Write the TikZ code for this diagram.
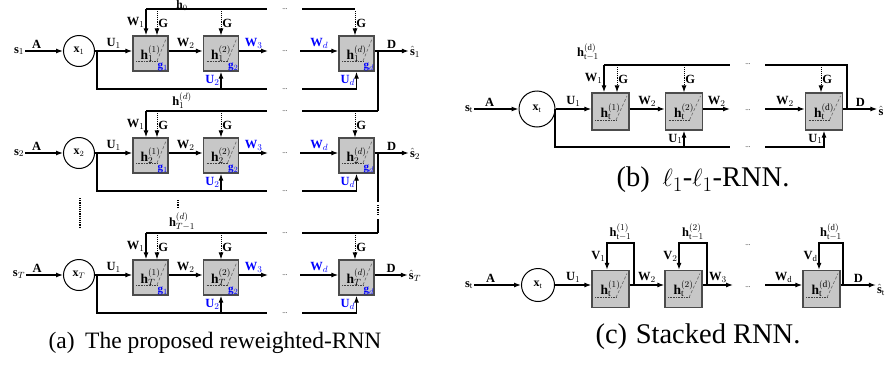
\documentclass[tikz,border=0pt]{standalone}
\usepackage{fontspec}
\setmainfont{Liberation Serif}
\usetikzlibrary{arrows.meta}
\tikzset{
  lbl/.style={font=\fontsize{12.5}{13}\selectfont\bfseries, inner sep=1pt},
  blbl/.style={lbl, text=blue},
  glbl/.style={font=\fontsize{11}{11}\selectfont\bfseries, text=blue, inner sep=0.5pt},
  link/.style={line width=1.2pt},
  wire/.style={link, -{Latex[length=7pt,width=5pt]}},
  gwire/.style={line width=0.9pt, densely dotted, -{Latex[length=7pt,width=5pt]}},
  unit/.style={circle, draw, line width=1pt, minimum size=31pt, inner sep=0pt, font=\fontsize{12}{12}\selectfont\bfseries},
  cell/.style={draw=black!70, fill=black!22, line width=1.3pt, minimum size=35pt, inner sep=0pt,
    font=\fontsize{13.5}{14}\selectfont,
    path picture={
      \draw[black!75, line width=0.6pt, densely dotted]
        ([shift={(3pt,10pt)}]path picture bounding box.south west) -- ([shift={(24pt,10pt)}]path picture bounding box.south west);
      \draw[black!60, line width=0.6pt, densely dashed]
        ([shift={(24pt,10pt)}]path picture bounding box.south west) -- ([shift={(-2pt,-3pt)}]path picture bounding box.north east);
    }},
  etc/.style={font=\fontsize{7}{7}\selectfont, inner sep=0pt},
  subcap/.style={font=\fontsize{23.5}{26}\selectfont, inner sep=0pt}
}
\begin{document}
\begin{tikzpicture}[x=1pt, y=-1pt]
\useasboundingbox (0,0) rectangle (886,367);

% (a) one row per time step
\foreach \r/\Y/\s/\e in {1/51/1/355, 2/153/2/378, 3/275/T/378} {
  \node[lbl] (s\r) at (19,\Y) {$\mathbf{s}_{\s}$};
  \node[unit] (x\r) at (79,\Y) {$\mathbf{x}_{\s}$};
  \node[cell] (c\r1) at (150.5,\Y+2.5) {$\mathbf{h}_{\s}^{(1)}$\hspace{7pt}};
  \node[cell] (c\r2) at (221,\Y+2.5) {$\mathbf{h}_{\s}^{(2)}$\hspace{7pt}};
  \node[cell] (c\r3) at (356.5,\Y+2.5) {$\mathbf{h}_{\s}^{(d)}$\hspace{7pt}};
  \node[glbl, anchor=south east] (g\r1) at (c\r1.south east) {$\mathbf{g}_1$};
  \node[glbl, anchor=south east] (g\r2) at (c\r2.south east) {$\mathbf{g}_2$};
  \node[glbl, anchor=south east] (g\r3) at (c\r3.south east) {$\mathbf{g}_d$};
  \node[lbl] (y\r) at (415,\Y+1) {$\hat{\mathbf{s}}_{\s}$};
  \node[etc] (m\r) at (285,\Y) {...};
  \node[etc] (mb\r) at (285,\Y+38) {...};
  \node[etc] (mt\r) at (285,\Y-42) {...};
  % free ends
  \coordinate (w\r) at (268,\Y);
  \coordinate (v\r) at (300,\Y);
  \coordinate (o\r) at (97,\Y);
  \coordinate (p\r) at (267,\Y+38);
  \coordinate (q\r) at (302,\Y+38);
  \coordinate (t\r) at (146,\Y-42);
  \coordinate (tm\r) at (267,\Y-42);
  \coordinate (tn\r) at (302,\Y-42);
  \coordinate (te\r) at (\e,\Y-42);
  \coordinate (k\r1) at (157,\Y-40);
  \coordinate (k\r2) at (221,\Y-40);
  \coordinate (k\r3) at (355,\Y-40);
  \coordinate (r\r) at (378,\Y);
  % forward path
  \draw[wire] (s\r) -- (x\r) node[lbl, above=1pt, pos=0.3] {A};
  \draw[wire] (x\r) -- (x\r -| c\r1.west) node[lbl, above=1pt, midway] {$\mathbf{U}_1$};
  \draw[wire] (c\r1.east |- x\r) -- (c\r2.west |- x\r) node[lbl, above=1pt, midway] {$\mathbf{W}_2$};
  \draw[wire] (c\r2.east |- x\r) -- (w\r) node[blbl, above=1pt, midway] {$\mathbf{W}_3$};
  \draw[wire] (v\r) -- (v\r -| c\r3.west) node[blbl, above=1pt, midway] {$\mathbf{W}_d$};
  \draw[wire] (c\r3.east |- x\r) -- (y\r.west |- x\r) node[lbl, above=1pt, midway] {D};
  % input skip below
  \draw[link] (o\r) |- (p\r);
  \draw[wire] (q\r) -| (c\r3.south) node[blbl, left, pos=0.75] {$\mathbf{U}_d$};
  \draw[wire] (c\r2.south |- p\r) -- (c\r2.south) node[blbl, left, midway] {$\mathbf{U}_2$};
  % previous state above
  \draw[link] (t\r) -- (tm\r);
  \draw[link] (tn\r) -- (te\r);
  \draw[wire] (t\r) -- (t\r |- c\r1.north) node[lbl, left, midway] {$\mathbf{W}_1$};
  \draw[gwire] (k\r1) -- (k\r1 |- c\r1.north) node[lbl, right, midway] {G};
  \draw[gwire] (k\r2) -- (k\r2 |- c\r2.north) node[lbl, right, midway] {G};
  \draw[gwire] (k\r3) -- (k\r3 |- c\r3.north) node[lbl, right, midway] {G};
}
\node[lbl, font=\fontsize{11.5}{12}\selectfont\bfseries, anchor=base] (h0) at (182,8.2) {$\mathbf{h}_0$};
\node[lbl, anchor=south] (h1d) at (182,110) {$\mathbf{h}_1^{(d)}$};
\node[lbl, anchor=south] (hTd) at (182,232) {$\mathbf{h}_{T-1}^{(d)}$};

% state handed to the next time step
\coordinate (rd2) at (378,202);
\coordinate (rd3) at (378,219);
\draw[link] (r1) -- (r1 |- te2);
\draw[link] (r2) -- (rd2);
\draw[link, densely dotted] (378,205) -- (378,216);
\draw[link] (rd3) -- (r2 |- te3);
\draw[link, densely dotted] (80,198) -- (80,228);
\draw[link, densely dotted] (178,200) -- (178,208);

% (b) l1-l1-RNN
\node[lbl] (sb) at (469,109) {$\mathbf{s}_\mathrm{t}$};
\node[unit, minimum size=36pt] (xb) at (537,109) {$\mathbf{x}_\mathrm{t}$};
\node[cell, minimum size=37pt] (cb1) at (610.5,111.5) {$\mathbf{h}_\mathrm{t}^{(1)}$\hspace{7pt}};
\node[cell, minimum size=37pt] (cb2) at (684,111.5) {$\mathbf{h}_\mathrm{t}^{(2)}$\hspace{7pt}};
\node[cell, minimum size=37pt] (cb3) at (824,111.5) {$\mathbf{h}_\mathrm{t}^{(\mathrm{d})}$\hspace{7pt}};
\node[lbl] (yb) at (881,111) {$\hat{\mathbf{s}}$};
\node[etc] (mb) at (748,110) {...};
\node[etc] (mbt) at (748,64) {...};
\node[etc] (mbb) at (748,147) {...};
\node[lbl, anchor=south] (hb) at (588,62) {$\mathbf{h}_{\mathrm{t}-1}^{(\mathrm{d})}$};
\coordinate (wb) at (730,109);
\coordinate (vb) at (765,109);
\coordinate (ob) at (555,109);
\coordinate (pb) at (730,147);
\coordinate (qb) at (765,147);
\coordinate (tb) at (604,65);
\coordinate (tbm) at (730,65);
\coordinate (tbn) at (765,65);
\coordinate (rb) at (847,109);
\coordinate (kb1) at (617,67);
\coordinate (kb2) at (684,67);
\coordinate (kb3) at (821,67);
\draw[wire] (sb) -- (xb) node[lbl, above=1pt, pos=0.35] {A};
\draw[wire] (xb) -- (xb -| cb1.west) node[lbl, above=1pt, midway] {$\mathbf{U}_1$};
\draw[wire] (cb1.east |- xb) -- (cb2.west |- xb) node[lbl, above=1pt, midway] {$\mathbf{W}_2$};
\draw[wire] (cb2.east |- xb) -- (wb) node[lbl, above=1pt, midway] {$\mathbf{W}_2$};
\draw[wire] (vb) -- (vb -| cb3.west) node[lbl, above=1pt, midway] {$\mathbf{W}_2$};
\draw[wire] (cb3.east |- xb) -- (yb.west |- xb) node[lbl, above=1pt, midway] {D};
\draw[link] (ob) |- (pb);
\draw[wire] (qb) -| (cb3.south) node[lbl, left, pos=0.75] {$\mathbf{U}_1$};
\draw[wire] (cb2.south |- pb) -- (cb2.south) node[lbl, left, midway] {$\mathbf{U}_1$};
\draw[link] (tb) -- (tbm);
\draw[link] (tbn) -| (rb);
\draw[wire] (tb) -- (tb |- cb1.north) node[lbl, left, midway] {$\mathbf{W}_1$};
\draw[gwire] (kb1) -- (kb1 |- cb1.north) node[lbl, right, midway] {G};
\draw[gwire] (kb2) -- (kb2 |- cb2.north) node[lbl, right, midway] {G};
\draw[gwire] (kb3) -- (kb3 |- cb3.north) node[lbl, right, midway] {G};

% (c) stacked RNN
\node[lbl] (sc) at (469,285) {$\mathbf{s}_\mathrm{t}$};
\node[unit, minimum size=33pt] (xc) at (538,285) {$\mathbf{x}_\mathrm{t}$};
\node[cell, minimum size=37pt] (cc1) at (610.5,289) {$\mathbf{h}_\mathrm{t}^{(1)}$\hspace{7pt}};
\node[cell, minimum size=37pt] (cc2) at (683.5,289) {$\mathbf{h}_\mathrm{t}^{(2)}$\hspace{7pt}};
\node[cell, minimum size=37pt] (cc3) at (821.5,289) {$\mathbf{h}_\mathrm{t}^{(\mathrm{d})}$\hspace{7pt}};
\node[lbl] (yc) at (881,290) {$\hat{\mathbf{s}}_\mathrm{t}$};
\node[etc] (mc) at (748,287) {...};
\node[etc] (mct) at (748,245) {...};
\node[lbl, anchor=south] (hc1) at (620.5,242) {$\mathbf{h}_{\mathrm{t}-1}^{(1)}$};
\node[lbl, anchor=south] (hc2) at (693,242) {$\mathbf{h}_{\mathrm{t}-1}^{(2)}$};
\node[lbl, anchor=south] (hc3) at (831,242) {$\mathbf{h}_{\mathrm{t}-1}^{(\mathrm{d})}$};
\coordinate (wc) at (733,285);
\coordinate (vc) at (765,285);
\coordinate (lc1) at (634,285);
\coordinate (ac1) at (607,243);
\coordinate (lc2) at (707,285);
\coordinate (ac2) at (679,243);
\coordinate (lc3) at (843,285);
\coordinate (ac3) at (819,243);
\draw[wire] (sc) -- (xc) node[lbl, above=1pt, pos=0.35] {A};
\draw[wire] (xc) -- (xc -| cc1.west) node[lbl, above=1pt, midway] {$\mathbf{U}_1$};
\draw[wire] (cc1.east |- xc) -- (cc2.west |- xc) node[lbl, above=1pt, midway] {$\mathbf{W}_2$};
\draw[wire] (cc2.east |- xc) -- (wc) node[lbl, above=1pt, midway] {$\mathbf{W}_3$};
\draw[wire] (vc) -- (vc -| cc3.west) node[lbl, above=1pt, midway] {$\mathbf{W}_\mathrm{d}$};
\draw[wire] (cc3.east |- xc) -- (yc.west |- xc) node[lbl, above=1pt, midway] {D};
\draw[wire] (lc1) |- (ac1) -- (ac1 |- cc1.north) node[lbl, left, midway] {$\mathbf{V}_1$};
\draw[wire] (lc2) |- (ac2) -- (ac2 |- cc2.north) node[lbl, left, midway] {$\mathbf{V}_2$};
\draw[wire] (lc3) |- (ac3) -- (ac3 |- cc3.north) node[lbl, left, midway] {$\mathbf{V}_\mathrm{d}$};

% captions
\node[subcap] (capa) at (215,343) {(a)\hspace{0.45em}The proposed reweighted-RNN};
\node[subcap, font=\fontsize{28.5}{30}\selectfont] (capb) at (703,180) {(b)\hspace{0.45em}$\ell_1$-$\ell_1$-RNN.};
\node[subcap, font=\fontsize{28.5}{30}\selectfont] (capc) at (698,337) {(c)\hspace{0.3em}Stacked RNN.};
\end{tikzpicture}
\end{document}
